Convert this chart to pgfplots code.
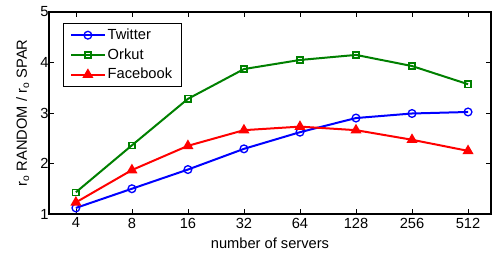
\documentclass[border=0pt]{standalone}
\usepackage{pgfplots}
\pgfplotsset{compat=1.18}
\usepackage{fontspec}
\setmainfont{Liberation Sans}
\definecolor{mblue}{rgb}{0,0,1}
\definecolor{mgreen}{rgb}{0,0.5,0}
\definecolor{mred}{rgb}{1,0,0}
\begin{document}
\fontsize{11}{13}\selectfont
\begin{tikzpicture}
\begin{axis}[
  name=ax,
  scale only axis,
  width=331.5pt, height=151.5pt,
  xmin=-0.48, xmax=7.41,
  ymin=1, ymax=5,
  xtick={0,1,2,3,4,5,6,7},
  xticklabels={4,8,16,32,64,128,256,512},
  ytick={1,2,3,4,5},
  tick align=inside,
  major tick length=3.5pt,
  axis line style={line width=0.9pt},
  tick style={line width=0.5pt, black},
  /pgf/number format/assume math mode=true,
  ticklabel style={font=\fontsize{11}{13}\selectfont},
  label style={font=\fontsize{11}{13}\selectfont},
  xlabel={number of servers},
  ylabel={r\textsubscript{o} RANDOM / r\textsubscript{o} SPAR},
  xlabel style={at={(axis description cs:0.5,0)}, anchor=center, yshift=-21.75pt},
  ylabel style={at={(axis description cs:-0.044,0.5)}, anchor=south, inner sep=0pt},
  yticklabel style={xshift=3.5pt},
  xticklabel style={yshift=1pt},
  legend style={at={(0.032,0.946)}, anchor=north west, draw=black, line width=0.6pt,
    font=\fontsize{11}{13}\selectfont, row sep=2pt, inner xsep=5pt, inner ysep=2.5pt,
    nodes={inner sep=1.6pt}},
  legend cell align=left,
  legend image code/.code={\draw[mark repeat=2,mark phase=2] plot[mark size=1.8pt] coordinates {(0cm,0cm)(0.44cm,0cm)(0.88cm,0cm)};},
  clip=false,
]
\addplot[mblue, line width=1.5pt, mark=o, mark options={solid, line width=1pt, mark size=2.9pt}] coordinates {
(0,1.12) (1,1.50) (2,1.88) (3,2.29) (4,2.62) (5,2.90) (6,2.99) (7,3.02)};
\addlegendentry{Twitter}
\addplot[mgreen, line width=1.5pt, mark=square, mark options={solid, line width=1pt, mark size=2.3pt}] coordinates {
(0,1.43) (1,2.36) (2,3.28) (3,3.87) (4,4.05) (5,4.15) (6,3.93) (7,3.57)};
\addlegendentry{Orkut}
\addplot[mred, line width=1.5pt, mark=triangle*, mark options={solid, mark size=3.3pt}] coordinates {
(0,1.23) (1,1.87) (2,2.35) (3,2.66) (4,2.73) (5,2.66) (6,2.47) (7,2.25)};
\addlegendentry{Facebook}
\end{axis}
\useasboundingbox ([xshift=-36.75pt,yshift=-29.25pt]ax.south west) rectangle ([xshift=1.5pt,yshift=9pt]ax.north east);
\end{tikzpicture}
\end{document}
